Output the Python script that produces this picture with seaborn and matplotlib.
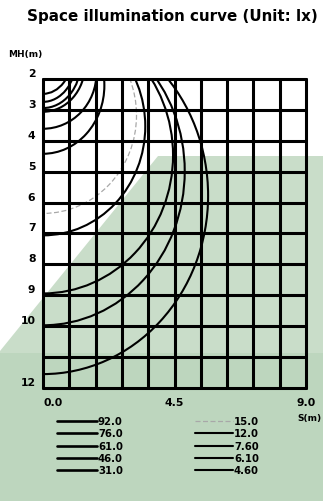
import numpy as np
import pandas as pd
import matplotlib
matplotlib.use("Agg")
import matplotlib.pyplot as plt
import seaborn as sns
from matplotlib.patches import Ellipse, Polygon, Rectangle
from matplotlib.lines import Line2D
from matplotlib.transforms import ScaledTranslation

# ---------------- data ----------------
legend_levels = ["92.0", "76.0", "61.0", "46.0", "31.0",
                 "15.0", "12.0", "7.60", "6.10", "4.60"]
# depth (MH, m) where each isolux curve meets the vertical axis
curve_depth = [2.48, 2.74, 2.94, 3.06, 3.61, 4.42, 6.35, 7.06, 8.94, 9.97, 11.55]
# maximum horizontal reach (S, m) of each curve
curve_reach = [1.00, 1.13, 1.29, 1.44, 1.83, 2.10, 3.20, 3.50, 4.45, 4.85, 5.65]
# level of each curve ("" = unlabeled extra curve)
curve_level = ["92.0", "76.0", "", "61.0", "46.0", "31.0",
               "15.0", "12.0", "7.60", "6.10", "4.60"]
y_tick_values = [2, 3, 4, 5, 6, 7, 8, 9, 10, 12]
y_tick_labels = ["2", "3", "4", "5", "6", "7", "8", "9", "10", "12"]
x_tick_values = [0.0, 4.5, 9.0]
x_tick_labels = ["0.0", "4.5", "9.0"]
x_grid = [0.0, 0.9, 1.8, 2.7, 3.6, 4.5, 5.4, 6.3, 7.2, 8.1, 9.0]
y_grid = [2, 3, 4, 5, 6, 7, 8, 9, 10, 11, 12]

curves = pd.DataFrame({"depth": curve_depth, "reach": curve_reach, "level": curve_level})

# ---------------- styling ----------------
sns.set_theme(style="white")
plt.rcParams["font.family"] = ["DejaVu Sans"]
plt.rcParams["font.weight"] = "bold"
plt.rcParams["text.color"] = "black"

W, H = 323, 502
def fx(p):
    return p / W
def fy(p):
    return 1 - p / H

fig = plt.figure(figsize=(W / 100, H / 100), dpi=100)
fig.patch.set_facecolor("white")

upper_green = "#c9ddc9"
lower_green = "#bdd6be"
fig.add_artist(Polygon([(fx(0), fy(352)), (fx(158), fy(157)), (fx(323), fy(157)),
                        (fx(323), fy(354)), (fx(0), fy(354))], closed=True,
                       transform=fig.transFigure, facecolor=upper_green,
                       edgecolor="none", zorder=-10))
fig.add_artist(Rectangle((0, 0), 1, fy(354), transform=fig.transFigure,
                         facecolor=lower_green, edgecolor="none", zorder=-10))

ax = fig.add_axes([fx(43), fy(389), (306 - 43) / W, (389 - 80) / H])
ax.set_facecolor("none")
ax.set_xlim(0, 9)
ax.set_ylim(12, 2)
for s in ax.spines.values():
    s.set_visible(False)
ax.set_xticks([])
ax.set_yticks([])

# grid
for v in x_grid:
    ax.axvline(v, color="black", lw=2.2, zorder=3, clip_on=False)
for v in y_grid:
    ax.axhline(v, color="black", lw=2.2, zorder=3, clip_on=False)

# isolux curves
style = {}
for _, r in curves.iterrows():
    if r["level"] == "15.0":
        kw = dict(edgecolor="#a8a8a8", lw=0.9, ls=(0, (4, 2)))
    else:
        kw = dict(edgecolor="black", lw=1.5)
    e = Ellipse((0, r["depth"] / 2), width=2 * r["reach"], height=r["depth"],
                fill=False, zorder=2, **kw)
    ax.add_patch(e)
    if r["level"]:
        style[r["level"]] = kw

# y tick labels
ytr = ax.get_yaxis_transform() + ScaledTranslation(-0.075, 0.06, fig.dpi_scale_trans)
for v, lab in zip(y_tick_values, y_tick_labels):
    ax.text(0, v, lab, transform=ytr, ha="right", va="center",
            fontsize=7.8, fontweight="bold", color="black")

# x tick labels
xtr = ax.get_xaxis_transform() + ScaledTranslation(0, -0.14, fig.dpi_scale_trans)
for v, lab, ha in zip(x_tick_values, x_tick_labels, ["left", "center", "center"]):
    ax.text(v, 0, lab, transform=xtr, ha=ha, va="center",
            fontsize=7.8, fontweight="bold", color="black")

fig.text(fx(309), fy(418), "S(m)", ha="center", va="center", fontsize=6.5,
         fontweight="bold")
fig.text(fx(25), fy(55), "MH(m)", ha="center", va="center", fontsize=6.5,
         fontweight="bold")
fig.text(fx(172), fy(17), "Space illumination curve (Unit: lx)", ha="center",
         va="center", fontsize=10.9, fontweight="bold")

# legend (two columns of five)
for i, lab in enumerate(legend_levels):
    col, row = divmod(i, 5)
    x0, x1 = (57, 97) if col == 0 else (195, 233)
    y = 422 + row * 12.3
    kw = style[lab]
    fig.add_artist(Line2D([fx(x0), fx(x1)], [fy(y), fy(y)], transform=fig.transFigure,
                          color=kw["edgecolor"], lw=kw["lw"] + (0.4 if col == 0 else 0),
                          ls=kw["ls"] if "ls" in kw else "-"))
    fig.text(fx(x1 + 1), fy(y), lab, ha="left", va="center", fontsize=7.3,
             fontweight="bold")

fig.savefig("out.png", dpi=100)
